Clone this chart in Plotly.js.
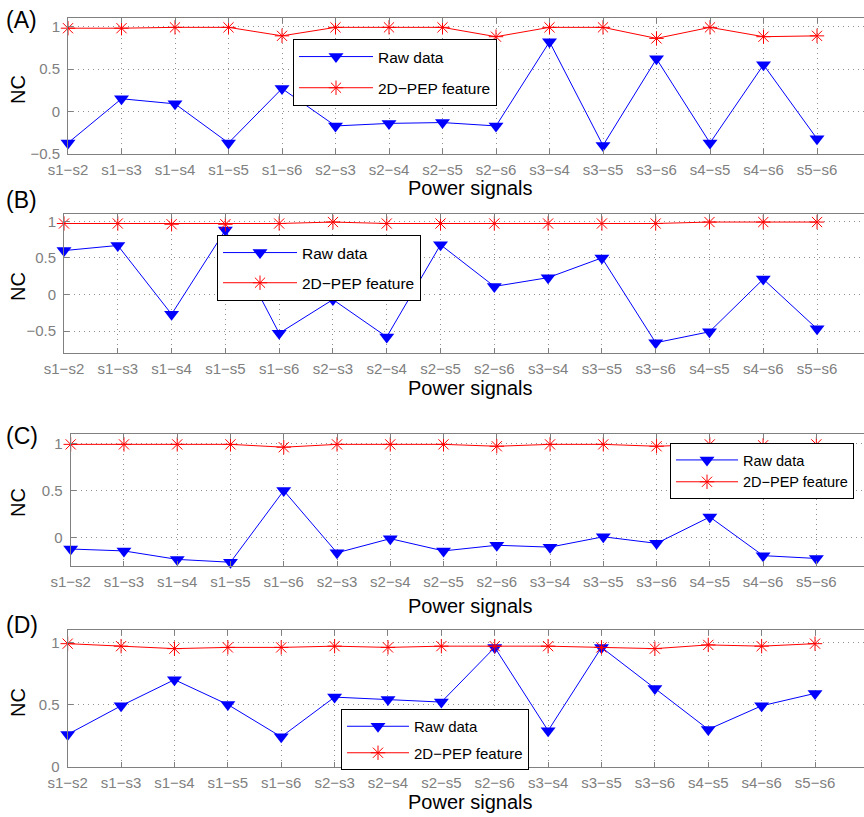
<!DOCTYPE html>
<html>
<head>
<meta charset="utf-8">
<script src="https://cdn.plot.ly/plotly-3.0.1.min.js"></script>
<style>html,body{margin:0;padding:0;background:#fff;}#chart{width:864px;height:817px;}</style>
</head>
<body>
<div id="chart"></div>
<script>
const categories = ['s1−s2','s1−s3','s1−s4','s1−s5','s1−s6','s2−s3','s2−s4','s2−s5','s2−s6','s3−s4','s3−s5','s3−s6','s4−s5','s4−s6','s5−s6'];
const seriesNames = ['Raw data', '2D−PEP feature'];
const panelLabels = ['(A)', '(B)', '(C)', '(D)'];

const rawA = [-0.37, 0.15, 0.09, -0.37, 0.27, -0.17, -0.14, -0.13, -0.17, 0.82, -0.40, 0.62, -0.37, 0.55, -0.32];
const pepA = [0.98, 0.98, 0.99, 0.99, 0.89, 0.99, 0.99, 0.99, 0.88, 0.99, 0.99, 0.86, 0.99, 0.88, 0.89];

const rawB = [0.60, 0.67, -0.27, 0.88, -0.53, -0.07, -0.58, 0.68, 0.11, 0.23, 0.50, -0.66, -0.51, 0.21, -0.47];
const pepB = [0.97, 0.97, 0.96, 0.96, 0.97, 0.99, 0.97, 0.97, 0.97, 0.97, 0.97, 0.97, 0.99, 0.99, 0.99];

const rawC = [-0.12, -0.14, -0.23, -0.26, 0.50, -0.16, -0.01, -0.14, -0.08, -0.10, 0.01, -0.06, 0.22, -0.19, -0.22];
const pepC = [0.99, 0.99, 0.99, 0.99, 0.96, 0.99, 0.99, 0.99, 0.97, 0.99, 0.99, 0.97, 0.99, 0.98, 0.99];

const rawD = [0.26, 0.49, 0.70, 0.50, 0.24, 0.56, 0.54, 0.52, 0.96, 0.29, 0.96, 0.63, 0.30, 0.49, 0.59];
const pepD = [0.99, 0.97, 0.95, 0.96, 0.96, 0.97, 0.96, 0.97, 0.97, 0.97, 0.96, 0.95, 0.98, 0.97, 0.99];

const yRanges = [[-0.5, 1.1], [-0.8, 1.1], [-0.3, 1.1], [0, 1.1]];

const rawSets = [rawA, rawB, rawC, rawD];
const pepSets = [pepA, pepB, pepC, pepD];

// layout geometry (pixels)
const W = 864, H = 817;
const panels = [
  {left: 68, top: 18, bottom: 154, spacing: 53.5, legX: 293, legY: 39, gap: 8, iw: 74, ew: 205, fs: 15.5, titleY: 188, ncY: 90, labY: 20},
  {left: 64, top: 214, bottom: 353, spacing: 53.79, legX: 217, legY: 235, gap: 7, iw: 74, ew: 205, fs: 15.5, titleY: 388, ncY: 287, labY: 200},
  {left: 70.7, top: 434, bottom: 566, spacing: 53.26, legX: 670, legY: 443, gap: 0, iw: 62, ew: 0, fs: 14.5, titleY: 606, ncY: 503, labY: 436},
  {left: 67.7, top: 630, bottom: 766.7, spacing: 53.38, legX: 341, legY: 709, gap: 4, iw: 62, ew: 0, fs: 15, titleY: 802, ncY: 703, labY: 625}
];

const FONT = '"Liberation Sans", Arial, Helvetica, sans-serif';
const traces = [];
const layout = {
  width: W, height: H,
  margin: {l: 0, r: 0, t: 0, b: 0},
  paper_bgcolor: '#ffffff', plot_bgcolor: '#ffffff',
  font: {family: FONT},
  annotations: [],
  showlegend: true
};

panels.forEach((p, i) => {
  const sfx = i === 0 ? '' : String(i + 1);
  const legName = 'legend' + sfx;
  traces.push({
    x: categories, y: rawSets[i], type: 'scatter', mode: 'lines+markers',
    name: seriesNames[0], xaxis: 'x' + sfx, yaxis: 'y' + sfx,
    legend: legName, legendgroup: 'raw' + i, cliponaxis: false,
    line: {color: '#0000ff', width: 1},
    marker: {symbol: 'triangle-down', size: 13, color: '#0000ff', line: {width: 0}}
  });
  traces.push({
    x: categories, y: pepSets[i], type: 'scatter', mode: 'lines+markers',
    name: seriesNames[1], xaxis: 'x' + sfx, yaxis: 'y' + sfx,
    legend: legName, legendgroup: 'pep' + i, cliponaxis: false,
    line: {color: '#ff0000', width: 1},
    marker: {symbol: 'asterisk-open', size: 12, color: '#ff0000', line: {color: '#ff0000', width: 1}}
  });
  const xr = (W - p.left) / p.spacing;
  layout['xaxis' + sfx] = {
    domain: [p.left / W, 1], anchor: 'y' + sfx,
    type: 'category', range: [0, xr],
    showline: true, linecolor: '#808080', linewidth: 1, mirror: 'ticks',
    ticks: 'inside', ticklen: 5, tickcolor: '#808080',
    showgrid: true, gridcolor: '#909090', griddash: '1px,4px', gridwidth: 1,
    tickfont: {size: 15, color: '#808080', family: FONT},
    ticklabelstandoff: 2,
    zeroline: false, fixedrange: true
  };
  layout['yaxis' + sfx] = {
    domain: [1 - p.bottom / H, 1 - p.top / H], anchor: 'x' + sfx,
    range: yRanges[i], dtick: 0.5, tick0: 0,
    showline: true, linecolor: '#808080', linewidth: 1, mirror: false,
    ticks: 'inside', ticklen: 5, tickcolor: '#808080',
    showgrid: true, gridcolor: '#909090', griddash: '1px,4px', gridwidth: 1,
    tickfont: {size: 15, color: '#808080', family: FONT},
    ticklabelstandoff: 4,
    zeroline: false, fixedrange: true
  };
  const leg = {
    x: p.legX / W, y: 1 - p.legY / H, xanchor: 'left', yanchor: 'top',
    xref: 'paper', yref: 'paper',
    bgcolor: '#ffffff', bordercolor: '#000000', borderwidth: 1,
    font: {size: p.fs, color: '#000000', family: FONT},
    traceorder: 'grouped', tracegroupgap: p.gap, itemwidth: p.iw
  };
  if (p.ew) { leg.entrywidth = p.ew; leg.entrywidthmode = 'pixels'; }
  layout[legName] = leg;
  layout.annotations.push({
    text: 'Power signals', xref: 'paper', yref: 'paper',
    x: 470 / W, y: 1 - p.titleY / H, xanchor: 'center', yanchor: 'middle',
    showarrow: false, font: {size: 20, color: '#000000', family: FONT}
  });
  layout.annotations.push({
    text: 'NC', xref: 'paper', yref: 'paper', textangle: -90,
    x: 18 / W, y: 1 - p.ncY / H, xanchor: 'center', yanchor: 'middle',
    showarrow: false, font: {size: 20, color: '#000000', family: FONT}
  });
  layout.annotations.push({
    text: panelLabels[i], xref: 'paper', yref: 'paper',
    x: 4 / W, y: 1 - p.labY / H, xanchor: 'left', yanchor: 'middle',
    showarrow: false, font: {size: 23, color: '#000000', family: FONT}
  });
});

Plotly.newPlot('chart', traces, layout, {displayModeBar: false, staticPlot: true});
</script>
</body>
</html>
